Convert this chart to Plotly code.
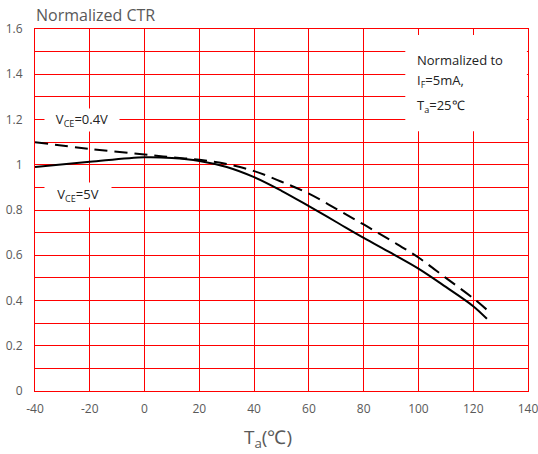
import plotly.graph_objects as go

temps = [-40, -20, 0, 10, 20, 30, 40, 50, 60, 70, 80, 90, 100, 110, 120, 125]
ctr_vce5 = [0.99, 1.013, 1.033, 1.03, 1.017, 0.99, 0.945, 0.885, 0.817, 0.747, 0.677, 0.61, 0.541, 0.46, 0.375, 0.319]
ctr_vce04 = [1.10, 1.07, 1.045, 1.033, 1.022, 1.003, 0.972, 0.925, 0.872, 0.805, 0.736, 0.665, 0.59, 0.50, 0.41, 0.359]

x_ticks = [-40, -20, 0, 20, 40, 60, 80, 100, 120, 140]
y_ticks = [0, 0.2, 0.4, 0.6, 0.8, 1.0, 1.2, 1.4, 1.6]
y_tick_labels = ["0", "0.2", "0.4", "0.6", "0.8", "1", "1.2", "1.4", "1.6"]

note_lines = ["Normalized to", "I<sub>F</sub>=5mA,", "T<sub>a</sub>=25℃"]
note_y = [1.462, 1.371, 1.26]

RED = "#ff0000"
GREY = "#595959"
DARK = "#222222"
FONT = "Open Sans"

fig = go.Figure()
fig.add_trace(go.Scatter(x=temps, y=ctr_vce04, mode="lines",
                         line=dict(color="black", width=2, dash="13px,7px", shape="spline"), showlegend=False))
fig.add_trace(go.Scatter(x=temps, y=ctr_vce5, mode="lines",
                         line=dict(color="black", width=2, shape="spline"), showlegend=False))

annotations = [
    dict(text="Normalized CTR", xref="paper", yref="paper", x=0, y=1, xanchor="left", yanchor="bottom",
         xshift=-1, yshift=1, showarrow=False, font=dict(size=16, color=GREY)),
    dict(text="T<sub>a</sub>(℃)", xref="x", yref="paper", x=44.9, y=-0.13, xanchor="center", yanchor="middle",
         showarrow=False, font=dict(size=19, color=GREY)),
    dict(text="V<sub>CE</sub>=0.4V", xref="x", yref="y", x=-23, y=1.2, showarrow=False,
         bgcolor="white", width=72, height=20, font=dict(size=13, color=DARK)),
    dict(text="V<sub>CE</sub>=5V", xref="x", yref="y", x=-24.3, y=0.865, showarrow=False,
         bgcolor="white", width=64, height=22, font=dict(size=13, color=DARK)),
]
for t, yy in zip(note_lines, note_y):
    annotations.append(dict(text=t, xref="x", yref="y", x=98.9, y=yy, xanchor="left", yanchor="middle",
                            showarrow=False, font=dict(size=13, color=DARK)))

fig.update_layout(
    width=538, height=454,
    margin=dict(l=35, r=10, t=29, b=63),
    paper_bgcolor="white", plot_bgcolor="white",
    font=dict(family=FONT, color=GREY),
    xaxis=dict(range=[-40, 140], tickvals=x_ticks, ticktext=[str(v) for v in x_ticks],
               showgrid=True, gridcolor=RED, gridwidth=1, zeroline=False, automargin=False,
               showline=True, linecolor=RED, linewidth=1, mirror=True, ticklabeloverflow="allow",
               ticks="", tickfont=dict(size=12, color=GREY), ticklabelstandoff=7),
    yaxis=dict(range=[0, 1.6], tickvals=y_ticks, ticktext=y_tick_labels,
               showgrid=True, gridcolor=RED, gridwidth=1, zeroline=False, automargin=False,
               minor=dict(dtick=0.1, showgrid=True, gridcolor=RED, gridwidth=1),
               showline=True, linecolor=RED, linewidth=1, mirror=True, ticklabeloverflow="allow",
               ticks="", tickfont=dict(size=12, color=GREY), ticklabelstandoff=9),
    shapes=[dict(type="rect", xref="x", yref="y", x0=95.2, x1=139.6, y0=1.148, y1=1.574,
                 fillcolor="white", line=dict(width=0), layer="between")],
    annotations=annotations,
)

fig.write_html("out.html", config={"displayModeBar": False},
               post_script="document.body.style.margin='0';document.body.style.overflow='hidden';")
